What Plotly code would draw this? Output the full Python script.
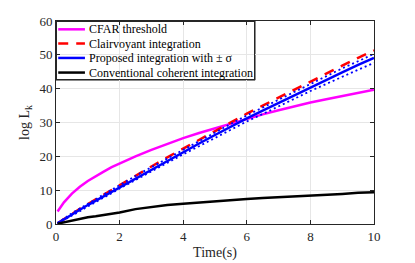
import plotly.graph_objects as go

# time grid (s)
t = [0.05, 0.25, 0.5, 0.75, 1.0, 1.25, 1.5, 1.75, 2.0, 2.5, 3.0, 3.5, 4.0, 4.5, 5.0,
     5.5, 6.0, 6.5, 7.0, 7.5, 8.0, 8.5, 9.0, 9.5, 10.0]

cfar = [3.7, 6.4, 9.0, 11.0, 12.7, 14.2, 15.5, 16.8, 17.9, 20.0, 21.9, 23.7, 25.4, 26.9, 28.3,
        29.8, 31.1, 32.4, 33.6, 34.8, 35.9, 36.9, 37.9, 38.8, 39.7]

clairvoyant = [0.2, 1.5, 3.0, 4.5, 5.9, 7.3, 8.8, 10.2, 11.6, 14.3, 17.0, 19.7, 22.3, 24.9, 27.5,
               30.1, 32.6, 35.0, 37.4, 39.8, 42.2, 44.5, 46.8, 49.1, 51.3]

proposed = [0.2, 1.4, 2.8, 4.2, 5.6, 6.9, 8.3, 9.6, 11.0, 13.6, 16.2, 18.8, 21.3, 23.8, 26.3,
            28.8, 31.2, 33.5, 35.8, 38.1, 40.4, 42.6, 44.8, 47.0, 49.1]

proposed_up = [0.3, 1.7, 3.2, 4.6, 6.0, 7.4, 8.8, 10.1, 11.5, 14.2, 16.8, 19.4, 22.0, 24.5, 27.1,
               29.6, 32.1, 34.4, 36.8, 39.1, 41.5, 43.7, 46.0, 48.1, 50.3]

proposed_lo = [0.1, 1.1, 2.4, 3.8, 5.2, 6.4, 7.8, 9.1, 10.5, 13.0, 15.6, 18.1, 20.6, 23.0, 25.5,
               27.9, 30.3, 32.5, 34.8, 37.0, 39.3, 41.4, 43.6, 45.6, 47.6]

conventional = [0.1, 0.5, 1.1, 1.6, 2.0, 2.3, 2.6, 2.9, 3.4, 4.4, 5.1, 5.6, 6.0, 6.4, 6.8,
                7.1, 7.4, 7.7, 7.9, 8.2, 8.4, 8.7, 8.9, 9.2, 9.4]

series_names = ["CFAR threshold", "Clairvoyant integration",
                "Proposed integration with \u00b1 \u03c3", "Conventional coherent integration"]

x_ticks = [0, 2, 4, 6, 8, 10]
y_ticks = [0, 10, 20, 30, 40, 50, 60]

FONT = "Liberation Serif"

styles = [
    dict(color="#ff00ff", width=2.5),
    dict(color="#ff0000", width=2.5, dash="10px,8px"),
    dict(color="#0000ff", width=2.5),
    dict(color="#000000", width=2.5),
]
dot_style = dict(color="#0000ff", width=1.8, dash="2px,3px")

fig = go.Figure()
fig.add_trace(go.Scatter(x=t, y=cfar, mode="lines", name=series_names[0], line=styles[0]))
fig.add_trace(go.Scatter(x=t, y=clairvoyant, mode="lines", name=series_names[1], line=styles[1]))
fig.add_trace(go.Scatter(x=t, y=proposed, mode="lines", name=series_names[2], line=styles[2]))
fig.add_trace(go.Scatter(x=t, y=proposed_up, mode="lines", name="+\u03c3", line=dot_style))
fig.add_trace(go.Scatter(x=t, y=proposed_lo, mode="lines", name="-\u03c3", line=dot_style))
fig.add_trace(go.Scatter(x=t, y=conventional, mode="lines", name=series_names[3], line=styles[3]))

# legend box drawn in paper coordinates (top-left of the axes)
lx0, lx1 = 0.0, 0.626
ly0, ly1 = 0.709, 1.0
row_y = [0.959, 0.889, 0.818, 0.746]
fig.add_shape(type="rect", xref="paper", yref="paper", x0=lx0, x1=lx1, y0=ly0, y1=ly1,
              fillcolor="white", line=dict(color="#333333", width=1), layer="between")
# frame of the legend as an empty bordered annotation box
fig.add_annotation(xref="paper", yref="paper", x=lx0, y=ly1, xanchor="left", yanchor="top",
                   text=" ", showarrow=False, width=197, height=57, borderpad=0,
                   bordercolor="#262626", borderwidth=1, bgcolor="rgba(0,0,0,0)",
                   font=dict(family=FONT, size=10))
for name, st, yy in zip(series_names, styles, row_y):
    fig.add_shape(type="line", xref="paper", yref="paper", x0=0.007, x1=0.091,
                  y0=yy, y1=yy, line=st, layer="above")
    fig.add_annotation(xref="paper", yref="paper", x=0.096, y=yy, text=name,
                       showarrow=False, xanchor="left", yanchor="middle",
                       font=dict(family=FONT, size=12, color="#000000"))

axis_common = dict(showline=True, mirror="ticks", linecolor="#262626", linewidth=1,
                   ticks="inside", ticklen=4, tickcolor="#262626", automargin=False,
                   showgrid=True, gridcolor="#e6e6e6", gridwidth=1, zeroline=False,
                   tickfont=dict(family=FONT, size=13, color="#262626"))

fig.update_layout(
    width=407, height=255,
    margin=dict(l=48, r=41, t=13, b=39),
    paper_bgcolor="white", plot_bgcolor="white",
    font=dict(family=FONT, color="#262626"),
    xaxis=dict(range=[0, 10], tickvals=x_ticks, **axis_common,
               title=dict(text="Time(s)", font=dict(family=FONT, size=14), standoff=4)),
    yaxis=dict(range=[0, 60], tickvals=y_ticks, **axis_common,
               title=dict(text="log L<sub>k</sub>", font=dict(family=FONT, size=14), standoff=6)),
    showlegend=False,
)

fig.write_html("out.html")
